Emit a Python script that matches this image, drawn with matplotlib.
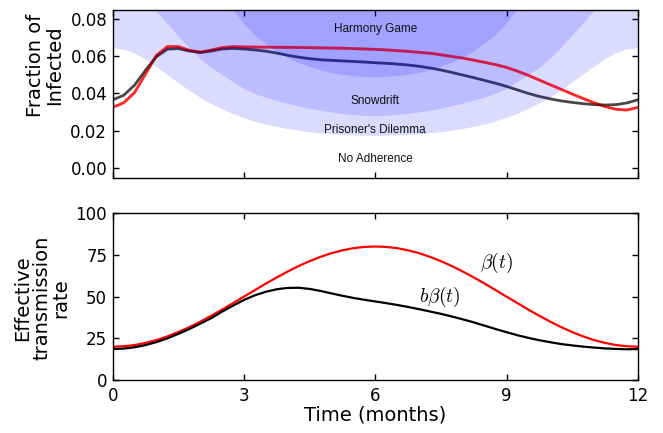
import matplotlib
matplotlib.use("Agg")
import matplotlib.pyplot as plt
import numpy as np

plt.rcParams['font.family'] = ['DejaVu Sans']
plt.rcParams['mathtext.fontset'] = 'cm'

# time grid (months), every 0.25 month
time = [i * 0.25 for i in range(49)]

# ---- top panel: fraction infected ----
infected_beta = [0.0325, 0.0350, 0.0405, 0.0505, 0.0605, 0.0652, 0.0652, 0.0632, 0.0622, 0.0633,
                 0.0646, 0.0652, 0.0650, 0.0649, 0.0649, 0.0648, 0.0648, 0.0647, 0.0646, 0.0645,
                 0.0644, 0.0643, 0.0641, 0.0639, 0.0637, 0.0634, 0.0630, 0.0626, 0.0621, 0.0616,
                 0.0608, 0.0599, 0.0590, 0.0579, 0.0567, 0.0555, 0.0540, 0.0520, 0.0497, 0.0472,
                 0.0447, 0.0422, 0.0397, 0.0373, 0.0350, 0.0330, 0.0315, 0.0311, 0.0325]
infected_bbeta = [0.0366, 0.0390, 0.0445, 0.0525, 0.0598, 0.0638, 0.0641, 0.0628, 0.0620, 0.0628,
                  0.0639, 0.0642, 0.0639, 0.0634, 0.0627, 0.0617, 0.0605, 0.0595, 0.0587, 0.0581,
                  0.0578, 0.0575, 0.0572, 0.0569, 0.0565, 0.0562, 0.0558, 0.0553, 0.0546, 0.0537,
                  0.0526, 0.0513, 0.0499, 0.0485, 0.0470, 0.0455, 0.0438, 0.0419, 0.0400, 0.0384,
                  0.0371, 0.0360, 0.0352, 0.0345, 0.0340, 0.0338, 0.0340, 0.0349, 0.0366]

# region boundaries (No Adherence / Prisoner's Dilemma / Snowdrift / Harmony Game)
bound_pd = [0.0643, 0.0637, 0.0616, 0.0583, 0.0543, 0.0500, 0.0457, 0.0416, 0.0378, 0.0345,
            0.0316, 0.0290, 0.0268, 0.0249, 0.0233, 0.0220, 0.0209, 0.0200, 0.0192, 0.0186,
            0.0181, 0.0177, 0.0175, 0.0173, 0.0172, 0.0173, 0.0175, 0.0177, 0.0181, 0.0186,
            0.0192, 0.0200, 0.0209, 0.0220, 0.0233, 0.0249, 0.0268, 0.0290, 0.0316, 0.0345,
            0.0378, 0.0416, 0.0457, 0.0500, 0.0543, 0.0583, 0.0616, 0.0637, 0.0643]
bound_sd = [0.0997, 0.0987, 0.0955, 0.0904, 0.0842, 0.0775, 0.0708, 0.0645, 0.0586, 0.0537,
            0.0500, 0.0462, 0.0425, 0.0398, 0.0378, 0.0360, 0.0345, 0.0331, 0.0318, 0.0307,
            0.0298, 0.0290, 0.0284, 0.0280, 0.0278, 0.0280, 0.0284, 0.0290, 0.0298, 0.0307,
            0.0318, 0.0331, 0.0345, 0.0360, 0.0378, 0.0398, 0.0425, 0.0462, 0.0500, 0.0537,
            0.0586, 0.0645, 0.0708, 0.0775, 0.0842, 0.0904, 0.0955, 0.0987, 0.0997]
bound_hg = [0.170, 0.168, 0.163, 0.155, 0.145, 0.134, 0.123, 0.113, 0.104, 0.097,
            0.091, 0.085, 0.0775, 0.0712, 0.0668, 0.0625, 0.0592, 0.0565, 0.0543, 0.0525,
            0.0510, 0.0500, 0.0493, 0.0489, 0.0487, 0.0489, 0.0493, 0.0500, 0.0510, 0.0525,
            0.0543, 0.0565, 0.0592, 0.0625, 0.0668, 0.0712, 0.0775, 0.085, 0.091, 0.097,
            0.104, 0.113, 0.123, 0.134, 0.145, 0.155, 0.163, 0.168, 0.170]

region_labels = ["Harmony Game", "Snowdrift", "Prisoner's Dilemma", "No Adherence"]
region_label_y = [0.0746, 0.0360, 0.0204, 0.0048]

# ---- bottom panel: transmission rates ----
beta = [20.0, 20.3, 21.0, 22.3, 24.0, 26.2, 28.8, 31.7, 35.0, 38.5, 42.2, 46.1, 50.0, 53.9,
        57.8, 61.5, 65.0, 68.3, 71.2, 73.8, 76.0, 77.7, 79.0, 79.7, 80.0, 79.7, 79.0, 77.7,
        76.0, 73.8, 71.2, 68.3, 65.0, 61.5, 57.8, 53.9, 50.0, 46.1, 42.2, 38.5, 35.0, 31.7,
        28.8, 26.2, 24.0, 22.3, 21.0, 20.3, 20.0]
b_beta = [18.6, 18.9, 19.7, 21.0, 22.8, 25.0, 27.7, 30.6, 33.8, 37.1, 41.0, 44.6, 48.0, 50.8,
          52.9, 54.4, 55.2, 55.3, 54.6, 53.4, 51.9, 50.5, 49.2, 48.1, 47.1, 46.1, 45.0, 43.8,
          42.5, 41.1, 39.7, 38.1, 36.4, 34.6, 32.6, 30.6, 28.7, 26.9, 25.3, 23.9, 22.7, 21.6,
          20.8, 20.1, 19.5, 19.0, 18.7, 18.5, 18.6]

xticks = [0, 3, 6, 9, 12]
top_yticks = [0.00, 0.02, 0.04, 0.06, 0.08]
bottom_yticks = [0, 25, 50, 75, 100]

fig = plt.figure(figsize=(6.63, 4.33), dpi=100)
ax1 = fig.add_axes([0.170, 0.589, 0.792, 0.389])
ax2 = fig.add_axes([0.170, 0.122, 0.792, 0.386])

# lines underneath, translucent bands on top, plus a faint red glaze on top
ax1.plot(time, infected_beta, color='#ff0000', alpha=0.75, lw=2.0, zorder=1)
ax1.plot(time, infected_bbeta, color='#000000', alpha=0.72, lw=2.0, zorder=2)

for b in (bound_pd, bound_sd, bound_hg):
    ax1.fill_between(time, b, 1.0, color='#0000ff', alpha=0.14, linewidth=0, zorder=3)

ax1.plot(time, infected_beta, color='#ff0000', alpha=0.35, lw=2.0, zorder=4)

for lab, yv in zip(region_labels, region_label_y):
    ax1.text(6, yv, lab, ha='center', va='center', fontsize=8.5,
             family='Liberation Sans', color='#111111', zorder=5)

ax1.set_xlim(0, 12)
ax1.set_ylim(-0.0054, 0.0851)
ax1.set_xticks(xticks)
ax1.set_xticklabels([])
ax1.set_yticks(top_yticks)
ax1.set_yticklabels(["%.2f" % v for v in top_yticks])
ax1.set_ylabel("Fraction of\nInfected", fontsize=14, linespacing=1.0)
ax1.yaxis.set_label_coords(-0.093, 0.67)

ax2.plot(time, beta, color='#ff0000', lw=1.6)
ax2.plot(time, b_beta, color='#000000', lw=1.6)
ax2.text(8.77, 70, r"$\beta(t)$", fontsize=14, ha='center', va='center')
ax2.text(7.48, 50, r"$b\beta(t)$", fontsize=14, ha='center', va='center')
ax2.set_xlim(0, 12)
ax2.set_ylim(0, 100)
ax2.set_xticks(xticks)
ax2.set_yticks(bottom_yticks)
ax2.set_xlabel("Time (months)", fontsize=14, labelpad=0)
ax2.set_ylabel("Effective\ntransmission\nrate", fontsize=14, linespacing=1.0)
ax2.yaxis.set_label_coords(-0.081, 0.49)

for ax in (ax1, ax2):
    ax.tick_params(direction='in', top=True, right=True, length=4, width=1,
                   labelsize=12)
    ax.tick_params(axis='x', pad=5)
    ax.tick_params(axis='y', pad=4)
    for s in ax.spines.values():
        s.set_linewidth(1.0)
        s.set_zorder(6)

fig.savefig("out.png", dpi=100)
